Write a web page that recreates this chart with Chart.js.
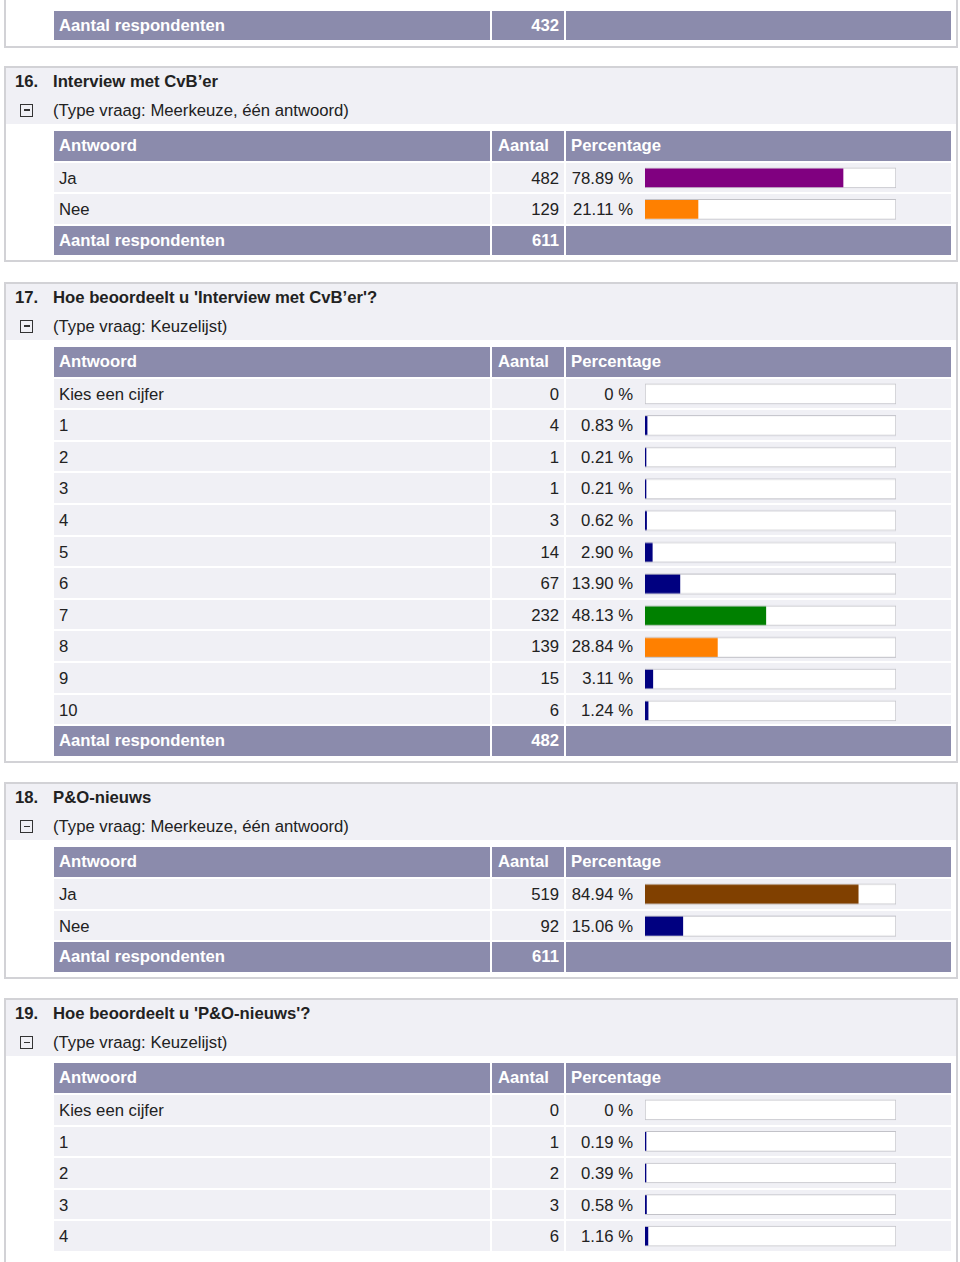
<!DOCTYPE html>
<html lang="nl">
<head>
<meta charset="UTF-8">
<title>Enquête resultaten</title>
<script src="https://cdn.jsdelivr.net/npm/chart.js"></script>
<style>
  body { margin: 0; width: 960px; height: 1262px; overflow: hidden; position: relative; background: #fff;
         font-family: "Liberation Sans", Arial, sans-serif; font-size: 16.7px; color: #222; }
  .box { position: absolute; left: 4px; width: 950px; border: 2px solid #d2d2d6; background: #fff; }
  .head { position: absolute; left: 0; right: 0; top: 0; height: 56px; background: #f0f0f5; }
  .line { position: absolute; height: 26px; line-height: 28px; white-space: nowrap; }
  .bold { font-weight: bold; }
  .icon { position: absolute; left: 14px; top: 36px; width: 13px; height: 13px; box-sizing: border-box; border: 1.5px solid #333; }
  .icon:after { content: ""; position: absolute; left: 2.5px; right: 2.5px; top: 4.3px; height: 1.5px; background: #333; }
  .row { position: absolute; left: 48px; width: 897px; height: 29.6px; line-height: 31px; }
  .row.hdr { line-height: 30px; }
  .cell { position: absolute; top: 0; height: 100%; background: #f0f0f5; box-sizing: border-box; white-space: nowrap; }
  .hdr .cell { background: #8b8bac; color: #fff; font-weight: bold; }
  .c1 { left: 0; width: 436px; padding-left: 5px; }
  .c2 { left: 438px; width: 72px; padding-right: 5px; text-align: right; }
  .hdr.top .c2 { text-align: left; padding-left: 6px; }
  .c3 { left: 512px; width: 385px; padding-left: 5px; }
  .pct { position: absolute; left: 0; width: 67px; text-align: right; }
  .chartbox { position: absolute; left: 639px; width: 252px; }
</style>
</head>
<body>
<script>
// vraag 15 (alleen de laatste regel zichtbaar)
const q15Total = 432;

// vraag 16
const q16Labels = ['Ja', 'Nee'];
const q16Counts = [482, 129];
const q16Pct = [78.89, 21.11];
const q16Total = 611;

// vraag 17
const q17Labels = ['Kies een cijfer', '1', '2', '3', '4', '5', '6', '7', '8', '9', '10'];
const q17Counts = [0, 4, 1, 1, 3, 14, 67, 232, 139, 15, 6];
const q17Pct = [0, 0.83, 0.21, 0.21, 0.62, 2.90, 13.90, 48.13, 28.84, 3.11, 1.24];
const q17Total = 482;

// vraag 18
const q18Labels = ['Ja', 'Nee'];
const q18Counts = [519, 92];
const q18Pct = [84.94, 15.06];
const q18Total = 611;

// vraag 19 (afgesneden onderaan)
const q19Labels = ['Kies een cijfer', '1', '2', '3', '4'];
const q19Counts = [0, 1, 2, 3, 6];
const q19Pct = [0, 0.19, 0.39, 0.58, 1.16];

const NAVY = '#000080';
const q16Colors = ['#800080', '#ff8000'];
const q17Colors = [NAVY, NAVY, NAVY, NAVY, NAVY, NAVY, NAVY, '#008000', '#ff8000', NAVY, NAVY];
const q18Colors = ['#804000', NAVY];
const q19Colors = [NAVY, NAVY, NAVY, NAVY, NAVY];

const ROW = 31.6;     // pitch of a table row
const FIRST = 63;     // header row top inside the box
const GAP = 19.6;     // space between boxes

function el(tag, cls, parent, text) {
  const e = document.createElement(tag);
  if (cls) e.className = cls;
  if (text !== undefined) e.textContent = text;
  parent.appendChild(e);
  return e;
}

function addRow(box, top, cls, a, b, c) {
  const r = el('div', 'row ' + cls, box);
  r.style.top = top + 'px';
  el('div', 'cell c1', r, a);
  el('div', 'cell c2', r, b);
  const c3 = el('div', 'cell c3', r);
  if (c !== undefined) c3.textContent = c;
  return c3;
}

function fmtPct(v) {
  return v === 0 ? '0 %' : v.toFixed(2) + ' %';
}

function makeQuestion(top, num, title, type, labels, counts, pct, colors, total) {
  const box = el('div', 'box', document.body);
  box.style.top = top + 'px';
  const n = labels.length + 1 + (total !== undefined ? 1 : 0);
  const outer = FIRST + 2 + n * ROW - 2 + 7;
  box.style.height = (outer - 4) + 'px';

  el('div', 'head', box);
  const t1 = el('div', 'line bold', box, num);
  t1.style.left = '9px'; t1.style.top = '0px';
  const t2 = el('div', 'line bold', box, title);
  t2.style.left = '47px'; t2.style.top = '0px';
  el('div', 'icon', box);
  const t3 = el('div', 'line', box, type);
  t3.style.left = '47px'; t3.style.top = '29px';

  addRow(box, FIRST, 'hdr top', 'Antwoord', 'Aantal', 'Percentage');
  labels.forEach((lab, i) => {
    const c3 = addRow(box, FIRST + (i + 1) * ROW, '', lab, counts[i]);
    el('span', 'pct', c3, fmtPct(pct[i]));
  });
  if (total !== undefined) {
    addRow(box, FIRST + (labels.length + 1) * ROW, 'hdr', 'Aantal respondenten', total);
  }

  const holder = el('div', 'chartbox', box);
  holder.style.top = (FIRST + ROW - 0.5) + 'px';
  holder.style.height = (labels.length * ROW) + 'px';
  const canvas = el('canvas', '', holder);

  new Chart(canvas, {
    type: 'bar',
    data: {
      labels: labels,
      datasets: [
        { data: pct.map(v => v === 0 ? null : v), backgroundColor: colors, borderWidth: 0,
          barThickness: 18, minBarLength: 1, grouped: false, order: 0 },
        { data: labels.map(() => 100), backgroundColor: '#ffffff', borderColor: '#c2c2c8',
          borderWidth: 1, borderSkipped: false, barThickness: 20, grouped: false, order: 1 }
      ]
    },
    options: {
      indexAxis: 'y',
      responsive: true,
      maintainAspectRatio: false,
      animation: false,
      layout: { padding: { left: 0, right: 1, top: 0, bottom: 0 } },
      plugins: { legend: { display: false }, tooltip: { enabled: false } },
      scales: {
        x: { display: false, min: 0, max: 100 },
        y: { display: false }
      }
    }
  });
  return { box: box, next: top + outer + GAP };
}

// restje van vraag 15
const box0 = el('div', 'box', document.body);
box0.style.top = '-30px';
box0.style.height = '74px';
addRow(box0, 38.5, 'hdr', 'Aantal respondenten', q15Total);

let y = 66;
y = makeQuestion(y, '16.', 'Interview met CvB’er', '(Type vraag: Meerkeuze, één antwoord)',
  q16Labels, q16Counts, q16Pct, q16Colors, q16Total).next;
y = makeQuestion(y, '17.', "Hoe beoordeelt u 'Interview met CvB’er'?", '(Type vraag: Keuzelijst)',
  q17Labels, q17Counts, q17Pct, q17Colors, q17Total).next;
y = makeQuestion(y, '18.', 'P&O-nieuws', '(Type vraag: Meerkeuze, één antwoord)',
  q18Labels, q18Counts, q18Pct, q18Colors, q18Total).next;
const q19 = makeQuestion(y, '19.', "Hoe beoordeelt u 'P&O-nieuws'?", '(Type vraag: Keuzelijst)',
  q19Labels, q19Counts, q19Pct, q19Colors);
// box 19 loopt verder dan het beeld
q19.box.style.height = '400px';
</script>
</body>
</html>
